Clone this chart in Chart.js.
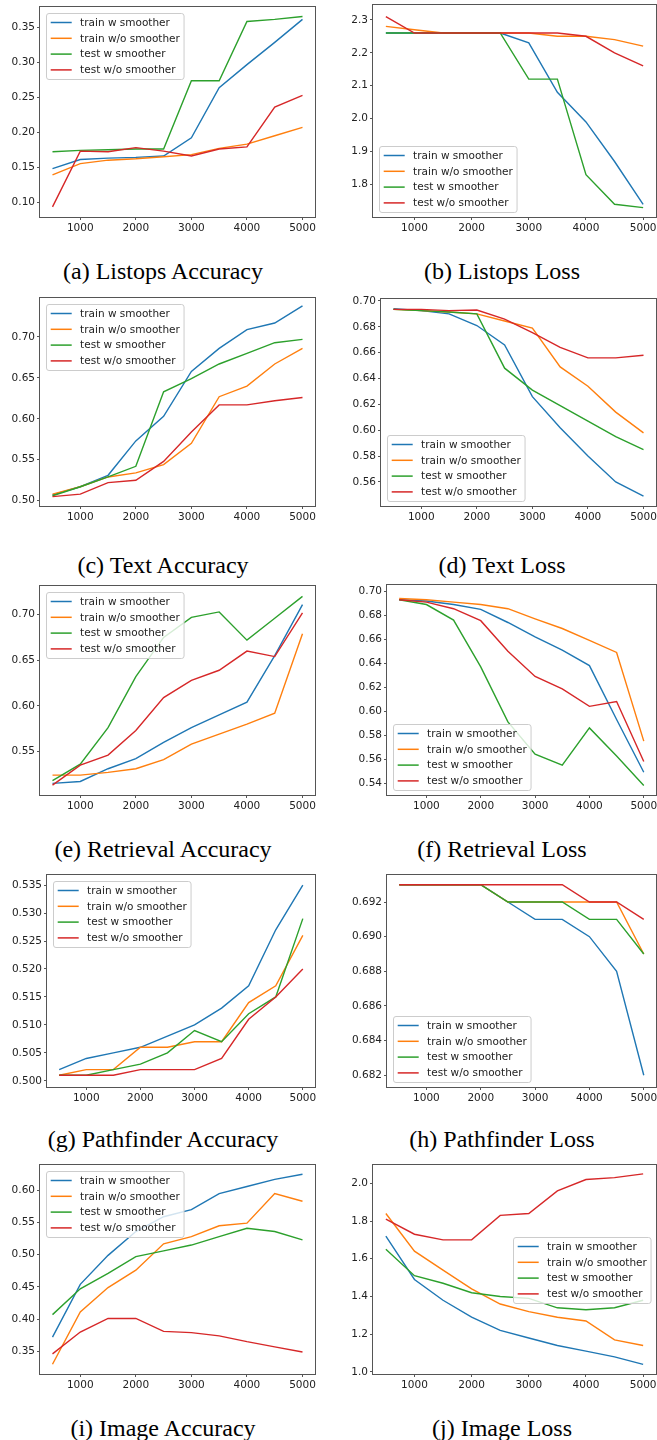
<!DOCTYPE html>
<html><head><meta charset="utf-8">
<script src="https://cdn.jsdelivr.net/npm/chart.js@4"></script>
<style>
html,body{margin:0;padding:0;background:#fff;width:657px;height:1440px;overflow:hidden;position:relative}
canvas{position:absolute}
.cap{position:absolute;font-family:"Liberation Serif","Times New Roman",serif;font-size:24px;color:#000;white-space:nowrap;line-height:1;transform:translateX(-50%)}
</style></head><body>
<script>
// ---------- data ----------
const steps = [500,1000,1500,2000,2500,3000,3500,4000,4500,5000];
const seriesLabels = ['train w smoother','train w/o smoother','test w smoother','test w/o smoother'];
const seriesColors = ['#1f77b4','#ff7f0e','#2ca02c','#d62728'];
const xTickValues = [1000,2000,3000,4000,5000];

const listopsAccTrainW  = [0.148,0.161,0.163,0.164,0.166,0.192,0.264,0.297,0.329,0.362];
const listopsAccTrainWo = [0.139,0.155,0.160,0.162,0.165,0.168,0.177,0.183,0.195,0.207];
const listopsAccTestW   = [0.172,0.174,0.175,0.176,0.176,0.274,0.274,0.359,0.362,0.366];
const listopsAccTestWo  = [0.093,0.173,0.172,0.178,0.173,0.166,0.176,0.179,0.236,0.253];

const listopsLossTrainW  = [2.26,2.26,2.26,2.26,2.26,2.23,2.08,1.99,1.87,1.74];
const listopsLossTrainWo = [2.28,2.27,2.26,2.26,2.26,2.26,2.25,2.25,2.24,2.22];
const listopsLossTestW   = [2.26,2.26,2.26,2.26,2.26,2.12,2.12,1.83,1.74,1.73];
const listopsLossTestWo  = [2.31,2.26,2.26,2.26,2.26,2.26,2.26,2.25,2.20,2.16];

const textAccTrainW  = [0.507,0.517,0.531,0.573,0.603,0.658,0.686,0.709,0.717,0.738];
const textAccTrainWo = [0.508,0.517,0.529,0.534,0.544,0.570,0.627,0.640,0.667,0.686];
const textAccTestW   = [0.506,0.517,0.529,0.542,0.633,0.649,0.667,0.680,0.693,0.697];
const textAccTestWo  = [0.505,0.508,0.522,0.525,0.548,0.584,0.617,0.617,0.622,0.626];

const textLossTrainW  = [0.694,0.6925,0.690,0.681,0.666,0.626,0.602,0.580,0.560,0.549];
const textLossTrainWo = [0.6935,0.6925,0.6915,0.690,0.6845,0.679,0.649,0.634,0.614,0.598];
const textLossTestW   = [0.6935,0.6925,0.6915,0.690,0.648,0.631,0.619,0.607,0.595,0.585];
const textLossTestWo  = [0.6935,0.6935,0.6925,0.693,0.686,0.6755,0.664,0.656,0.656,0.658];

const retrievalAccTrainW  = [0.515,0.517,0.531,0.542,0.560,0.576,0.590,0.604,0.655,0.711];
const retrievalAccTrainWo = [0.524,0.524,0.527,0.531,0.541,0.558,0.569,0.580,0.592,0.679];
const retrievalAccTestW   = [0.518,0.536,0.576,0.632,0.675,0.697,0.703,0.672,0.696,0.720];
const retrievalAccTestWo  = [0.513,0.535,0.546,0.573,0.609,0.628,0.639,0.660,0.654,0.702];

const retrievalLossTrainW  = [0.693,0.692,0.689,0.685,0.674,0.662,0.651,0.638,0.593,0.549];
const retrievalLossTrainWo = [0.694,0.693,0.691,0.689,0.6855,0.677,0.669,0.659,0.649,0.575];
const retrievalLossTestW   = [0.693,0.689,0.676,0.637,0.591,0.564,0.555,0.586,0.5625,0.538];
const retrievalLossTestWo  = [0.693,0.691,0.6855,0.6755,0.650,0.629,0.6185,0.604,0.608,0.558];

const pathAccTrainW  = [0.502,0.504,0.505,0.506,0.508,0.510,0.513,0.517,0.527,0.535];
const pathAccTrainWo = [0.501,0.502,0.502,0.506,0.506,0.507,0.507,0.514,0.517,0.526];
const pathAccTestW   = [0.501,0.501,0.502,0.503,0.505,0.509,0.507,0.512,0.515,0.529];
const pathAccTestWo  = [0.501,0.501,0.501,0.502,0.502,0.502,0.504,0.511,0.515,0.520];

const pathLossTrainW  = [0.693,0.693,0.693,0.693,0.692,0.691,0.691,0.690,0.688,0.682];
const pathLossTrainWo = [0.693,0.693,0.693,0.693,0.692,0.692,0.692,0.692,0.692,0.689];
const pathLossTestW   = [0.693,0.693,0.693,0.693,0.692,0.692,0.692,0.691,0.691,0.689];
const pathLossTestWo  = [0.693,0.693,0.693,0.693,0.693,0.693,0.693,0.692,0.692,0.691];

const imageAccTrainW  = [0.372,0.454,0.499,0.536,0.559,0.570,0.595,0.606,0.617,0.625];
const imageAccTrainWo = [0.330,0.411,0.449,0.476,0.517,0.528,0.545,0.549,0.595,0.583];
const imageAccTestW   = [0.407,0.447,0.471,0.497,0.506,0.515,0.528,0.541,0.536,0.523];
const imageAccTestWo  = [0.346,0.380,0.401,0.401,0.381,0.379,0.374,0.365,0.357,0.349];

const imageLossTrainW  = [1.72,1.49,1.38,1.29,1.22,1.18,1.14,1.11,1.08,1.04];
const imageLossTrainWo = [1.84,1.64,1.54,1.44,1.36,1.32,1.29,1.27,1.17,1.14];
const imageLossTestW   = [1.65,1.51,1.47,1.42,1.40,1.39,1.34,1.33,1.34,1.38];
const imageLossTestWo  = [1.81,1.73,1.70,1.70,1.83,1.84,1.96,2.02,2.03,2.05];

const captions = ['(a) Listops Accuracy','(b) Listops Loss','(c) Text Accuracy','(d) Text Loss',
  '(e) Retrieval Accuracy','(f) Retrieval Loss','(g) Pathfinder Accuracy','(h) Pathfinder Loss',
  '(i) Image Accuracy','(j) Image Loss'];

// ---------- layout (plot boxes: left, top, right, bottom) ----------
const panels = [
  {series:[listopsAccTrainW,listopsAccTrainWo,listopsAccTestW,listopsAccTestWo], box:[40,7,315,217], ylim:[0.0785,0.3797], step:0.05, dec:2, loc:'ul'},
  {series:[listopsLossTrainW,listopsLossTrainWo,listopsLossTestW,listopsLossTestWo], box:[373,5,656,217], ylim:[1.7015,2.345], step:0.1, dec:1, loc:'ll'},
  {series:[textAccTrainW,textAccTrainWo,textAccTestW,textAccTestWo], box:[40,298,315,506], ylim:[0.4935,0.7476], step:0.05, dec:2, loc:'ul'},
  {series:[textLossTrainW,textLossTrainWo,textLossTestW,textLossTestWo], box:[381,299,656,506], ylim:[0.5414,0.7015], step:0.02, dec:2, loc:'ll'},
  {series:[retrievalAccTrainW,retrievalAccTrainWo,retrievalAccTestW,retrievalAccTestWo], box:[40,586,315,795], ylim:[0.5022,0.7314], step:0.05, dec:2, loc:'ul'},
  {series:[retrievalLossTrainW,retrievalLossTrainWo,retrievalLossTestW,retrievalLossTestWo], box:[387,585,656,795], ylim:[0.530,0.7053], step:0.02, dec:2, loc:'ll'},
  {series:[pathAccTrainW,pathAccTrainWo,pathAccTestW,pathAccTestWo], box:[47,875,315,1087], ylim:[0.4989,0.5368], step:0.005, dec:3, loc:'ul'},
  {series:[pathLossTrainW,pathLossTrainWo,pathLossTestW,pathLossTestWo], box:[387,875,656,1087], ylim:[0.68132,0.69356], step:0.002, dec:3, loc:'ll'},
  {series:[imageAccTrainW,imageAccTrainWo,imageAccTestW,imageAccTestWo], box:[40,1165,315,1374], ylim:[0.3148,0.6393], step:0.05, dec:2, loc:'ul'},
  {series:[imageLossTrainW,imageLossTrainWo,imageLossTestW,imageLossTestWo], box:[373,1165,656,1374], ylim:[0.989,2.097], step:0.2, dec:1, loc:'cr'}
];
const captionBaselines = [279, 573, 857, 1147, 1436];
const captionCenters = [163, 502];

const FONT = '"DejaVu Sans", sans-serif';
const FS = 10.5;

const spines = {
  id:'spines',
  afterDatasetsDraw(chart){
    const a = chart.chartArea, ctx = chart.ctx;
    ctx.save();
    ctx.strokeStyle = '#555'; ctx.lineWidth = 1;
    ctx.strokeRect(Math.round(a.left)-0.5, Math.round(a.top)-0.5, Math.round(a.right-a.left)+1, Math.round(a.bottom-a.top)+1);
    ctx.restore();
  }
};

const mplLegend = {
  id:'mplLegend',
  afterDraw(chart, args, opts){
    const ctx = chart.ctx, a = chart.chartArea;
    ctx.save();
    ctx.font = FS + 'px ' + FONT;
    const ds = chart.data.datasets;
    let tw = 0; ds.forEach(d => { tw = Math.max(tw, ctx.measureText(d.label).width); });
    const pad = 0.4*FS, hl = 2*FS, htp = 0.8*FS, rowH = 15.8;
    const w = pad + hl + htp + tw + pad, h = 66, m = 5.5;
    let x, y;
    if (opts.loc === 'ul') { x = a.left + m; y = a.top + m; }
    else if (opts.loc === 'll') { x = a.left + m; y = a.bottom - m - h; }
    else { x = a.right - m - w; y = (a.top + a.bottom)/2 - h/2; }
    x = Math.round(x)+0.5; y = Math.round(y)+0.5;
    const r = 2.5;
    ctx.beginPath();
    ctx.moveTo(x+r, y); ctx.lineTo(x+w-r, y); ctx.arcTo(x+w, y, x+w, y+r, r);
    ctx.lineTo(x+w, y+h-r); ctx.arcTo(x+w, y+h, x+w-r, y+h, r);
    ctx.lineTo(x+r, y+h); ctx.arcTo(x, y+h, x, y+h-r, r);
    ctx.lineTo(x, y+r); ctx.arcTo(x, y, x+r, y, r); ctx.closePath();
    ctx.fillStyle = 'rgba(255,255,255,0.8)'; ctx.fill();
    ctx.strokeStyle = '#cccccc'; ctx.lineWidth = 1; ctx.stroke();
    ctx.textBaseline = 'middle'; ctx.textAlign = 'left';
    ds.forEach((d, i) => {
      const cy = y + 9 + i*rowH;
      ctx.beginPath(); ctx.strokeStyle = d.borderColor; ctx.lineWidth = 1.5;
      ctx.moveTo(x+pad, cy); ctx.lineTo(x+pad+hl, cy); ctx.stroke();
      ctx.fillStyle = '#222';
      ctx.fillText(d.label, x+pad+hl+htp, cy+0.5);
    });
    ctx.restore();
  }
};

const PT = 10, PR = 8, XH = 22;
panels.forEach((p, idx) => {
  const [L, T, R, B] = p.box;
  const cl = idx % 2 === 0 ? 0 : 330;
  const yw = L - cl;
  const cv = document.createElement('canvas');
  const W = R - cl + PR, H = (B - T) + PT + XH;
  cv.width = W; cv.height = H;
  cv.style.left = cl + 'px'; cv.style.top = (T - PT) + 'px';
  cv.style.width = W + 'px'; cv.style.height = H + 'px';
  document.body.appendChild(cv);
  const tickFont = {family: FONT, size: FS};
  new Chart(cv.getContext('2d'), {
    type: 'line',
    data: {
      datasets: p.series.map((s, i) => ({
        label: seriesLabels[i],
        data: steps.map((x, j) => ({x: x, y: s[j]})),
        borderColor: seriesColors[i],
        backgroundColor: seriesColors[i],
        borderWidth: 1.4,
        pointRadius: 0,
        fill: false,
        tension: 0,
        order: 3 - i
      }))
    },
    options: {
      responsive: false, animation: false, events: [], devicePixelRatio: 1,
      layout: {padding: {top: PT, right: PR, left: 0, bottom: 0}},
      plugins: {legend: {display: false}, tooltip: {enabled: false}, mplLegend: {loc: p.loc}},
      scales: {
        x: {
          type: 'linear', min: 275, max: 5225,
          afterFit(s) { s.height = XH; },
          afterBuildTicks(s) { s.ticks = xTickValues.map(v => ({value: v})); },
          grid: {display: true, drawOnChartArea: false, drawTicks: true, tickLength: 3, tickColor: '#555'},
          border: {display: false},
          ticks: {padding: 2, color: '#222', font: tickFont, maxRotation: 0, autoSkip: false, callback: v => String(v)}
        },
        y: {
          type: 'linear', min: p.ylim[0], max: p.ylim[1],
          afterFit(s) { s.width = yw; },
          grid: {display: true, drawOnChartArea: false, drawTicks: true, tickLength: 3, tickColor: '#555'},
          border: {display: false},
          ticks: {stepSize: p.step, includeBounds: false, padding: 2, color: '#222', font: tickFont, autoSkip: false, callback: v => Number(v).toFixed(p.dec)}
        }
      }
    },
    plugins: [spines, mplLegend]
  });
  const cap = document.createElement('div');
  cap.className = 'cap';
  cap.textContent = captions[idx];
  cap.style.left = captionCenters[idx % 2] + 'px';
  cap.style.top = (captionBaselines[Math.floor(idx/2)] - 20) + 'px';
  document.body.appendChild(cap);
});
</script>
</body></html>
